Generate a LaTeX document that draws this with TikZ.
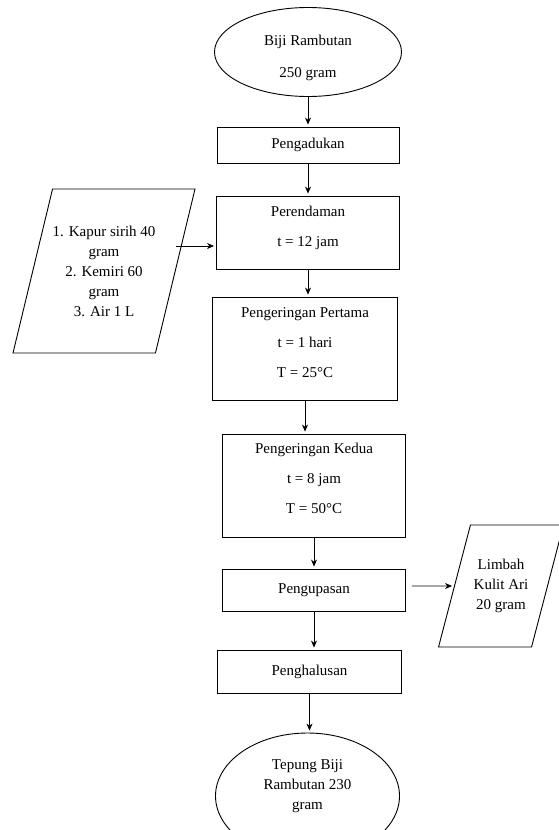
\documentclass[tikz,border=0pt]{standalone}
\usepackage{fontspec}
\setmainfont{Liberation Serif}
\usetikzlibrary{shapes.geometric,arrows.meta,positioning}

\tikzset{
  proc/.style={draw,rectangle,line width=0.9pt,inner sep=0pt,align=center,
    font=\fontsize{15}{30}\selectfont},
  term/.style={draw,ellipse,line width=0.9pt,inner sep=0pt,align=center},
  io/.style={draw,trapezium,trapezium stretches=true,line width=0.9pt,
    inner xsep=0pt,align=center,font=\fontsize{15}{20}\selectfont},
  flow/.style={-{Stealth[length=7pt,width=6pt]},line width=0.7pt,shorten >=2pt}
}

\begin{document}
\begin{tikzpicture}[x=1pt,y=-1pt,on grid]
  \useasboundingbox (0,0) rectangle (559,830);
  \clip (0,0) rectangle (559,830);
  \node[term,minimum width=187pt,minimum height=89pt,text height=54pt,
    font=\fontsize{15}{32}\selectfont]
    (start) at (308,52) {Biji Rambutan\\250 gram};
  \node[proc,minimum width=182pt,minimum height=36pt] (adukan) [below=93pt of start] {Pengadukan};
  \node[proc,minimum width=183pt,minimum height=73pt,text depth=12pt] (rendam) [below=87.5pt of adukan]
    {Perendaman\\t = 12 jam};
  \node[proc,minimum width=185pt,minimum height=103pt,text depth=12pt] (kering1) [below=116pt of rendam,xshift=-3pt]
    {Pengeringan Pertama\\t = 1 hari\\T = 25°C};
  \node[proc,minimum width=183pt,minimum height=103pt,text depth=14pt] (kering2) [below=137pt of kering1,xshift=9pt]
    {Pengeringan Kedua\\t = 8 jam\\T = 50°C};
  \node[proc,minimum width=183pt,minimum height=42pt] (kupas) [below=104.5pt of kering2] {Pengupasan};
  \node[proc,minimum width=184pt,minimum height=43pt] (halus) [below=81.5pt of kupas,xshift=-4.5pt] {Penghalusan};
  \node[term,minimum width=184pt,minimum height=126pt,text depth=22pt,
    font=\fontsize{15}{20}\selectfont]
    (finish) [below=124.5pt of halus,xshift=-2pt] {Tepung Biji\\Rambutan 230\\gram};

  % bahan tambahan dan limbah
  \node[io,trapezium left angle=76,trapezium right angle=104,inner ysep=34pt,
    minimum width=180pt,minimum height=164pt] (bahan) [left=204pt of rendam,yshift=-38.5pt]
    {1. Kapur sirih 40\\gram\\2. Kemiri 60\\gram\\3. Air 1 L};
  \node[io,trapezium left angle=76.6,trapezium right angle=103.4,inner ysep=33pt,
    minimum width=125pt,minimum height=122pt] (limbah) [right=187pt of kupas,yshift=4pt]
    {Limbah\\Kulit Ari\\20 gram};

  \draw[flow] (start.south) -- (start.south |- adukan.north);
  \draw[flow] (adukan.south) -- (adukan.south |- rendam.north);
  \draw[flow] (rendam.south) -- (rendam.south |- kering1.north);
  \draw[flow] (kering1.south) -- (kering1.south |- kering2.north);
  \draw[flow] (kering2.south) -- (kering2.south |- kupas.north);
  \draw[flow] (kupas.south) -- (kupas.south |- halus.north);
  \draw[flow] (halus.south) -- (halus.south |- finish.north);
  \draw[flow] ([yshift=25pt]bahan.east) -- ([yshift=25pt]bahan.east -| rendam.west);
  \draw[flow,shorten <=6pt] (kupas.east |- limbah) -- (limbah.west);
\end{tikzpicture}
\end{document}
